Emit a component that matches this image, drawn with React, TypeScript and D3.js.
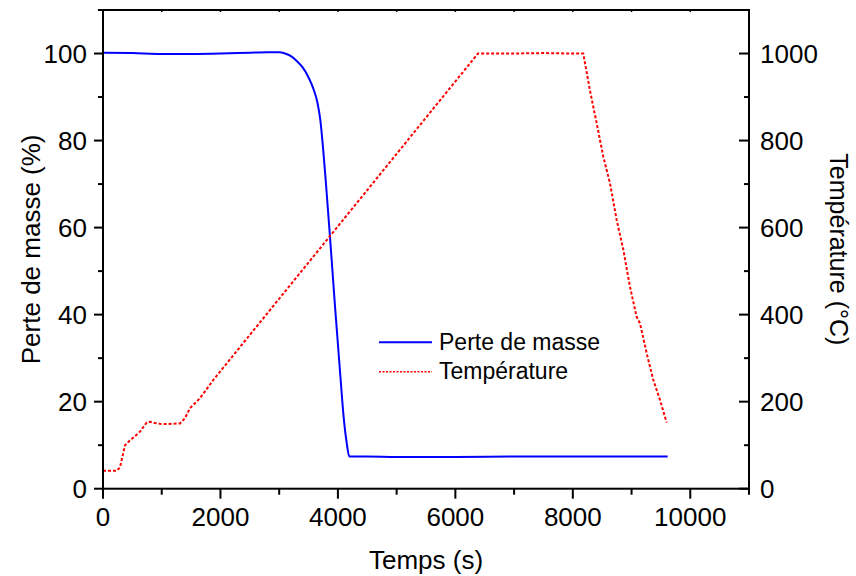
import React from "react";
import * as d3 from "d3";

const massTime = [0, 500, 1000, 1500, 2000, 2500, 2800, 3000, 3100, 3200, 3300, 3400, 3500, 3580, 3650, 3700, 3750, 3800, 3865, 3950, 4047, 4092, 4150, 4194, 4500, 5000, 6000, 7000, 8000, 9000, 9615];
const massValue = [100.2, 100.1, 99.9, 99.9, 100.0, 100.2, 100.3, 100.3, 100.0, 99.4, 98.3, 96.8, 94.5, 92.0, 88.8, 84.8, 77.8, 69.5, 57.9, 42, 25, 17.3, 10.5, 7.4, 7.4, 7.3, 7.3, 7.4, 7.4, 7.4, 7.4];

const tempTime = [0, 233, 289, 318, 375, 420, 488, 630, 700, 743, 800, 880, 970, 1085, 1311, 1396, 1481, 1652, 1879, 6385, 7000, 7500, 8000, 8178, 8292, 8406, 8519, 8633, 8746, 8860, 8973, 9087, 9144, 9258, 9370, 9484, 9598];
const tempValue = [41, 41, 49, 66, 100, 106, 114, 131, 144, 152, 154, 151, 149, 148.7, 150, 162, 185, 208, 250, 1000, 1000, 1001, 1000, 1000, 915, 840, 763, 702, 618, 549, 464, 395, 380, 311, 250, 204, 152];

const xTicks = [0, 2000, 4000, 6000, 8000, 10000];
const xMinor = [1000, 3000, 5000, 7000, 9000, 11000];
const yLeftTicks = [0, 20, 40, 60, 80, 100];
const yLeftMinor = [10, 30, 50, 70, 90, 110];
const yRightTicks = [0, 200, 400, 600, 800, 1000];
const yRightMinor = [100, 300, 500, 700, 900, 1100];

const seriesNames = ["Perte de masse", "Température"];
const xTitle = "Temps (s)";
const yLeftTitle = "Perte de masse (%)";
const yRightTitle = "Température (°C)";

export default function App() {
  const W = 856, H = 576;
  const L = 103, R = 749, T = 10, B = 488.7;
  const x = d3.scaleLinear().domain([0, 11000]).range([L, R]);
  const yL = d3.scaleLinear().domain([0, 110]).range([B, T]);
  const yR = d3.scaleLinear().domain([0, 1100]).range([B, T]);
  const font = "'Liberation Sans', Arial, sans-serif";

  const massLine = d3.line<number>()
    .x((_, i) => x(massTime[i]))
    .y((d) => yL(d))
    .curve(d3.curveMonotoneX);
  const tempLine = d3.line<number>()
    .x((_, i) => x(tempTime[i]))
    .y((d) => yR(d))
    .curve(d3.curveLinear);

  return (
    <svg width={W} height={H} style={{ position: "absolute", left: 0, top: 0, background: "#fff" }} fontFamily={font}>
      <rect x={0} y={0} width={W} height={H} fill="#fff" />
      {/* data */}
      <path d={massLine(massValue) || ""} fill="none" stroke="#0000ff" strokeWidth={2} />
      <path d={tempLine(tempValue) || ""} fill="none" stroke="#ff0000" strokeWidth={2} strokeDasharray="3,2" />

      {/* frame */}
      <rect x={L} y={T} width={R - L} height={B - T} fill="none" stroke="#000" strokeWidth={2} />

      {/* bottom axis */}
      {xTicks.map((t) => (
        <g key={"xt" + t}>
          <line x1={x(t)} x2={x(t)} y1={B} y2={B + 10} stroke="#000" strokeWidth={2} />
          <line x1={x(t)} x2={x(t)} y1={T} y2={T + 2} stroke="#000" strokeWidth={1.5} />
          <text x={x(t)} y={526} textAnchor="middle" fontSize={26}>{t}</text>
        </g>
      ))}
      {xMinor.map((t) => (
        <g key={"xm" + t}>
          <line x1={x(t)} x2={x(t)} y1={B} y2={B + 6} stroke="#000" strokeWidth={2} />
          <line x1={x(t)} x2={x(t)} y1={T} y2={T + 2} stroke="#000" strokeWidth={1.5} />
        </g>
      ))}

      {/* left axis */}
      {yLeftTicks.map((t) => (
        <g key={"yl" + t}>
          <line x1={L - 9} x2={L} y1={yL(t)} y2={yL(t)} stroke="#000" strokeWidth={2} />
          <text x={87} y={yL(t)} dy="0.36em" textAnchor="end" fontSize={26}>{t}</text>
        </g>
      ))}
      {yLeftMinor.map((t) => (
        <line key={"ylm" + t} x1={L - 5} x2={L} y1={yL(t)} y2={yL(t)} stroke="#000" strokeWidth={2} />
      ))}

      {/* right axis */}
      {yRightTicks.map((t) => (
        <g key={"yr" + t}>
          <line x1={R - 10} x2={R} y1={yR(t)} y2={yR(t)} stroke="#000" strokeWidth={2} />
          <text x={760} y={yR(t)} dy="0.36em" textAnchor="start" fontSize={26}>{t}</text>
        </g>
      ))}
      {yRightMinor.map((t) => (
        <line key={"yrm" + t} x1={R - 5} x2={R} y1={yR(t)} y2={yR(t)} stroke="#000" strokeWidth={2} />
      ))}

      {/* titles */}
      <text x={426} y={569} textAnchor="middle" fontSize={26}>{xTitle}</text>
      <text transform={`translate(40, ${(T + B) / 2}) rotate(-90)`} textAnchor="middle" fontSize={26}>{yLeftTitle}</text>
      <text transform={`translate(830, ${(T + B) / 2}) rotate(90)`} textAnchor="middle" fontSize={25}>{yRightTitle}</text>

      {/* legend */}
      <line x1={379} x2={432} y1={342.3} y2={342.3} stroke="#0000ff" strokeWidth={2} />
      <text x={439} y={350} fontSize={23}>{seriesNames[0]}</text>
      <line x1={379} x2={432} y1={371.7} y2={371.7} stroke="#ff0000" strokeWidth={1.5} strokeDasharray="2,1.5" />
      <text x={439} y={378.5} fontSize={23}>{seriesNames[1]}</text>
    </svg>
  );
}
